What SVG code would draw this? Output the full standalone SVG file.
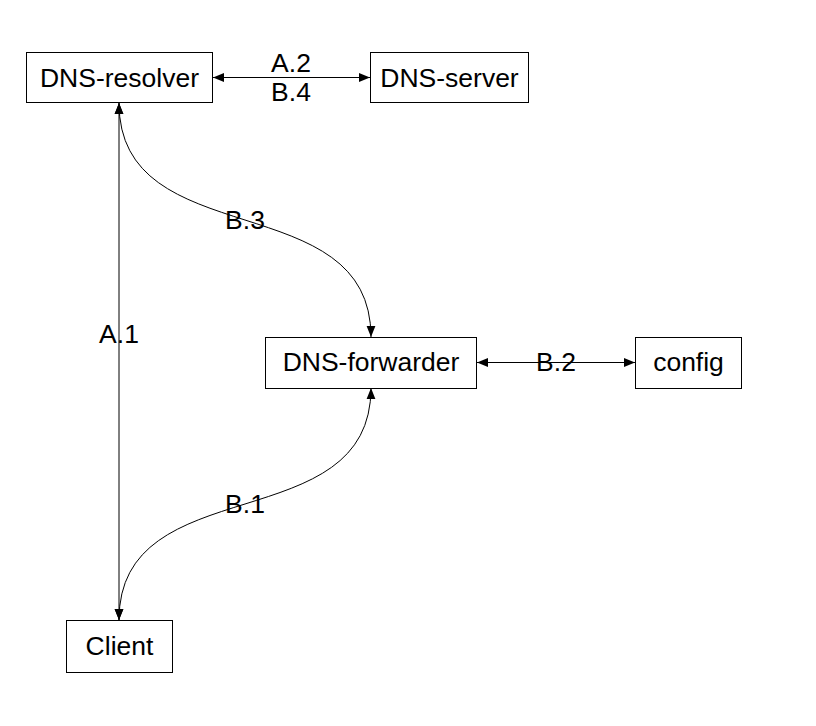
<svg xmlns="http://www.w3.org/2000/svg" width="816" height="726" viewBox="0 0 816 726">
<defs>
<marker id="ah" viewBox="0 0 10 10" refX="10" refY="5" markerWidth="11" markerHeight="11" markerUnits="userSpaceOnUse" orient="auto-start-reverse">
<path d="M0,1 L10,5 L0,9 Z" fill="#000"/>
</marker>
<style>
.box{fill:#fff;stroke:#000;stroke-width:1}
.t{font-family:"Liberation Sans",Arial,sans-serif;font-size:26.5px;fill:#000;text-anchor:middle;dominant-baseline:central}
.e{fill:none;stroke:#000;stroke-width:1;marker-start:url(#ah);marker-end:url(#ah)}
</style>
</defs>
<rect width="816" height="726" fill="#fff"/>
<g id="connectors">
<path class="e" d="M119,103 L119,620"/>
<path class="e" d="M213,77.5 L370,77.5"/>
<path class="e" d="M477,362.5 L635,362.5"/>
<path class="e" d="M119,103 C119,256 371,184 371,337"/>
<path class="e" d="M119,620 C119,467 371,541 371,388"/>
<text class="t" x="119" y="334">A.1</text>
<text class="t" x="291" y="63">A.2</text>
<text class="t" x="291" y="92">B.4</text>
<text class="t" x="556" y="362">B.2</text>
<text class="t" x="245" y="220">B.3</text>
<text class="t" x="245" y="504">B.1</text>
</g>
<g id="dns-resolver"><rect class="box" x="26.5" y="52.5" width="186" height="50"/><text class="t" x="119.5" y="78">DNS-resolver</text></g>
<g id="dns-server"><rect class="box" x="370.5" y="52.5" width="158" height="50"/><text class="t" x="449.5" y="78">DNS-server</text></g>
<g id="dns-forwarder"><rect class="box" x="265.5" y="337.5" width="211" height="51"/><text class="t" x="371" y="362">DNS-forwarder</text></g>
<g id="config"><rect class="box" x="635.5" y="337.5" width="106" height="51"/><text class="t" x="688.5" y="362">config</text></g>
<g id="client"><rect class="box" x="66.5" y="620.5" width="106" height="52"/><text class="t" x="119.5" y="646">Client</text></g>
</svg>
